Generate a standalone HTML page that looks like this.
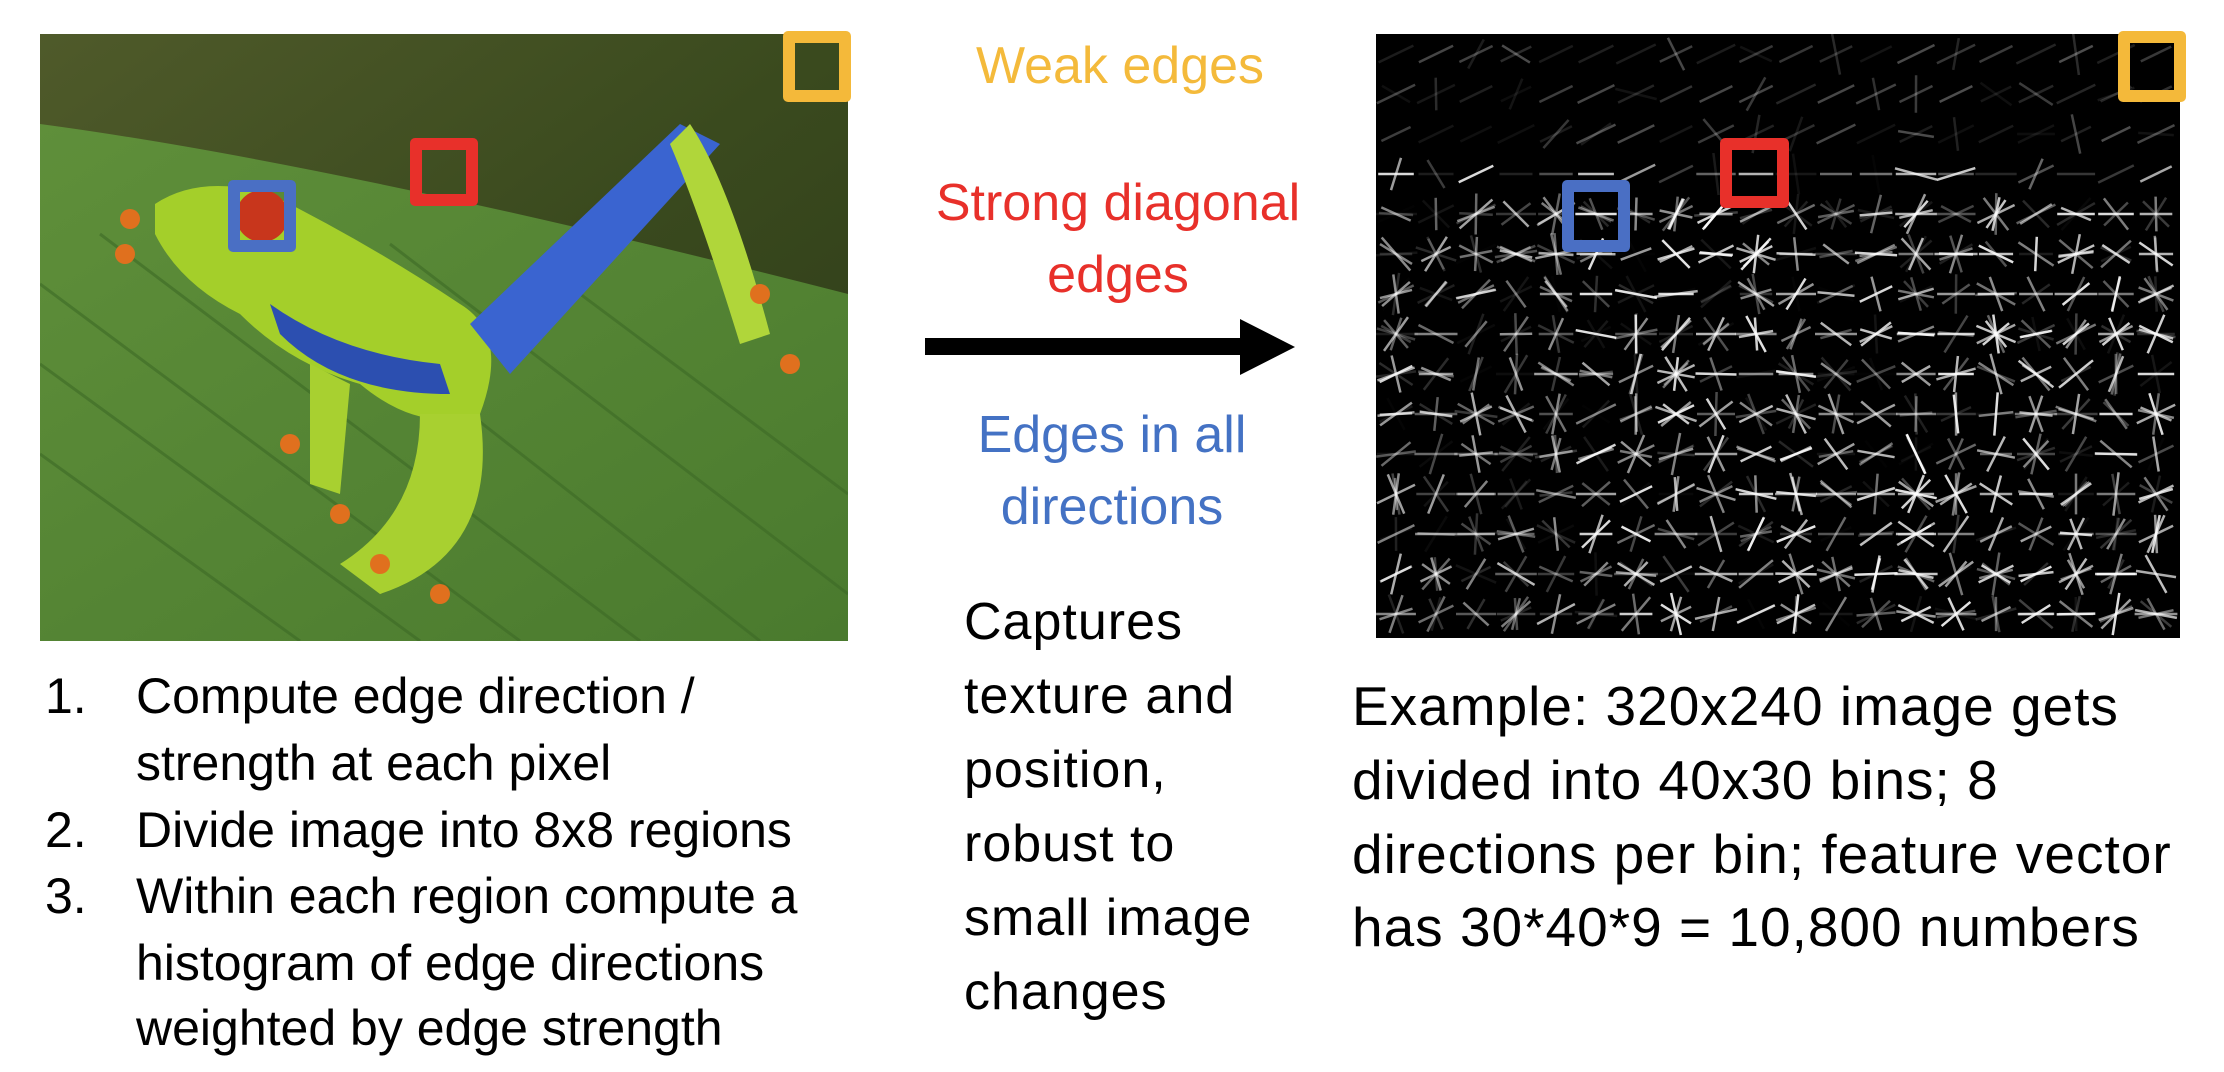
<!DOCTYPE html>
<html><head><meta charset="utf-8"><style>
body{margin:0;width:2224px;height:1072px;background:#fff;position:relative;overflow:hidden;font-family:"Liberation Sans",sans-serif;}
.t{position:absolute;white-space:nowrap;line-height:1;}
.c{text-align:center;transform:translateX(-50%);}
.box{position:absolute;box-sizing:border-box;border:12px solid;border-radius:5px;}
</style></head><body>
<svg style="position:absolute;left:40px;top:34px" width="808" height="607" viewBox="0 0 808 607">
<defs>
<linearGradient id="bg" x1="0" y1="0" x2="1" y2="1"><stop offset="0" stop-color="#4f5a2a"/><stop offset="0.5" stop-color="#3a4a1e"/><stop offset="1" stop-color="#2d3a18"/></linearGradient>
<linearGradient id="leaf" x1="0" y1="0" x2="1" y2="1"><stop offset="0" stop-color="#5f8f3a"/><stop offset="1" stop-color="#4a7a2e"/></linearGradient>
</defs>
<rect width="808" height="607" fill="url(#bg)"/>
<path d="M0 90 Q300 130 808 260 L808 607 L0 607Z" fill="url(#leaf)"/>
<g stroke="#3d6a26" stroke-width="3" opacity="0.6">
<line x1="0" y1="250" x2="480" y2="607"/><line x1="0" y1="330" x2="380" y2="607"/><line x1="0" y1="420" x2="260" y2="607"/><line x1="60" y1="200" x2="600" y2="607"/><line x1="200" y1="200" x2="720" y2="607"/><line x1="350" y1="210" x2="808" y2="560"/><line x1="500" y1="230" x2="808" y2="460"/>
</g>
<path d="M115 170 Q160 140 230 160 Q330 210 420 270 Q470 300 440 380 Q380 400 320 350 Q250 330 200 280 Q140 250 115 200Z" fill="#a4cf2a"/>
<path d="M230 270 Q300 320 400 330 L410 360 Q300 360 240 300Z" fill="#2c4fb0"/>
<path d="M430 290 L640 90 L680 110 L470 340Z" fill="#3a64d0"/>
<path d="M650 90 Q690 150 730 300 L700 310 Q660 180 630 110Z" fill="#b0d63a"/>
<path d="M380 380 L440 380 Q460 520 340 560 L300 530 Q380 480 380 380Z" fill="#a8d030"/>
<path d="M270 330 L310 350 L300 460 L270 450Z" fill="#a8d030"/>
<circle cx="222" cy="182" r="26" fill="#c8361c"/>
<g fill="#e0701e"><circle cx="90" cy="185" r="10"/><circle cx="85" cy="220" r="10"/><circle cx="250" cy="410" r="10"/><circle cx="300" cy="480" r="10"/><circle cx="340" cy="530" r="10"/><circle cx="400" cy="560" r="10"/><circle cx="720" cy="260" r="10"/><circle cx="750" cy="330" r="10"/></g>
</svg>
<svg id="hog" style="position:absolute;left:1376px;top:34px" width="804" height="604"><rect width="804" height="604" fill="#000"/></svg>

<div class="box" style="left:783px;top:31px;width:68px;height:71px;border-color:#F4B93A"></div>
<div class="box" style="left:410px;top:138px;width:68px;height:68px;border-color:#E8302A"></div>
<div class="box" style="left:228px;top:180px;width:68px;height:72px;border-color:#4A6FC4"></div>
<div class="box" style="left:2118px;top:31px;width:68px;height:71px;border-color:#F4B93A"></div>
<div class="box" style="left:1720px;top:138px;width:69px;height:70px;border-color:#E8302A"></div>
<div class="box" style="left:1562px;top:180px;width:68px;height:72px;border-color:#4A6FC4"></div>

<div style="font-size:52px">
<div class="t c" style="left:1120px;top:40px;color:#F4BA3B">Weak edges</div>
<div class="t c" style="left:1118px;top:177px;color:#E8302A">Strong diagonal</div>
<div class="t c" style="left:1118px;top:249px;color:#E8302A">edges</div>
<div class="t c" style="left:1112px;top:409px;color:#4472C4">Edges in all</div>
<div class="t c" style="left:1112px;top:481px;color:#4472C4">directions</div>
</div>

<svg style="position:absolute;left:920px;top:315px" width="380" height="64"><rect x="5" y="23" width="320" height="17" fill="#000"/><polygon points="320,4 375,32 320,60" fill="#000"/></svg>

<div style="font-size:52px;letter-spacing:1px">
<div class="t" style="left:964px;top:596px">Captures</div>
<div class="t" style="left:964px;top:670px">texture and</div>
<div class="t" style="left:964px;top:744px">position,</div>
<div class="t" style="left:964px;top:818px">robust to</div>
<div class="t" style="left:964px;top:892px">small image</div>
<div class="t" style="left:964px;top:966px">changes</div>
</div>
<div style="font-size:50px">
<div class="t" style="left:45px;top:671px">1.</div><div class="t" style="left:136px;top:671px">Compute edge direction /</div>
<div class="t" style="left:136px;top:738px">strength at each pixel</div>
<div class="t" style="left:45px;top:805px">2.</div><div class="t" style="left:136px;top:805px">Divide image into 8x8 regions</div>
<div class="t" style="left:45px;top:871px">3.</div><div class="t" style="left:136px;top:871px">Within each region compute a</div>
<div class="t" style="left:136px;top:938px">histogram of edge directions</div>
<div class="t" style="left:136px;top:1003px">weighted by edge strength</div>
</div>
<div style="font-size:55px;letter-spacing:1px">
<div class="t" style="left:1352px;top:679px">Example: 320x240 image gets</div>
<div class="t" style="left:1352px;top:753px">divided into 40x30 bins; 8</div>
<div class="t" style="left:1352px;top:827px">directions per bin; feature vector</div>
<div class="t" style="left:1352px;top:900px">has 30*40*9 = 10,800 numbers</div>
</div>
<script>
(function(){var s=document.getElementById('hog'),h='';
var seed=7;function r(){seed=(seed*9301+49297)%233280;return seed/233280;}
for(var j=0;j<15;j++)for(var i=0;i<20;i++){var cx=i*40+20,cy=j*40+20;
var strong=(j>=3)?0.9:0.3;if(j>=4&&i<5)strong=0.7;
var n=j>=4?3+Math.floor(r()*4):1+Math.floor(r()*2);
for(var k=0;k<n;k++){var a=(k===0?(j>=3&&r()<0.5?0:-0.45):r()*Math.PI);var L=16+r()*6;var o=(r()*strong).toFixed(2);
if(j<3)o=(0.05+r()*0.25).toFixed(2);
h+='<line x1="'+(cx-L*Math.cos(a)).toFixed(1)+'" y1="'+(cy-L*Math.sin(a)).toFixed(1)+'" x2="'+(cx+L*Math.cos(a)).toFixed(1)+'" y2="'+(cy+L*Math.sin(a)).toFixed(1)+'" stroke="#fff" stroke-width="2.5" opacity="'+o+'"/>';}}
s.insertAdjacentHTML('beforeend',h);})();
</script>
</body></html>
